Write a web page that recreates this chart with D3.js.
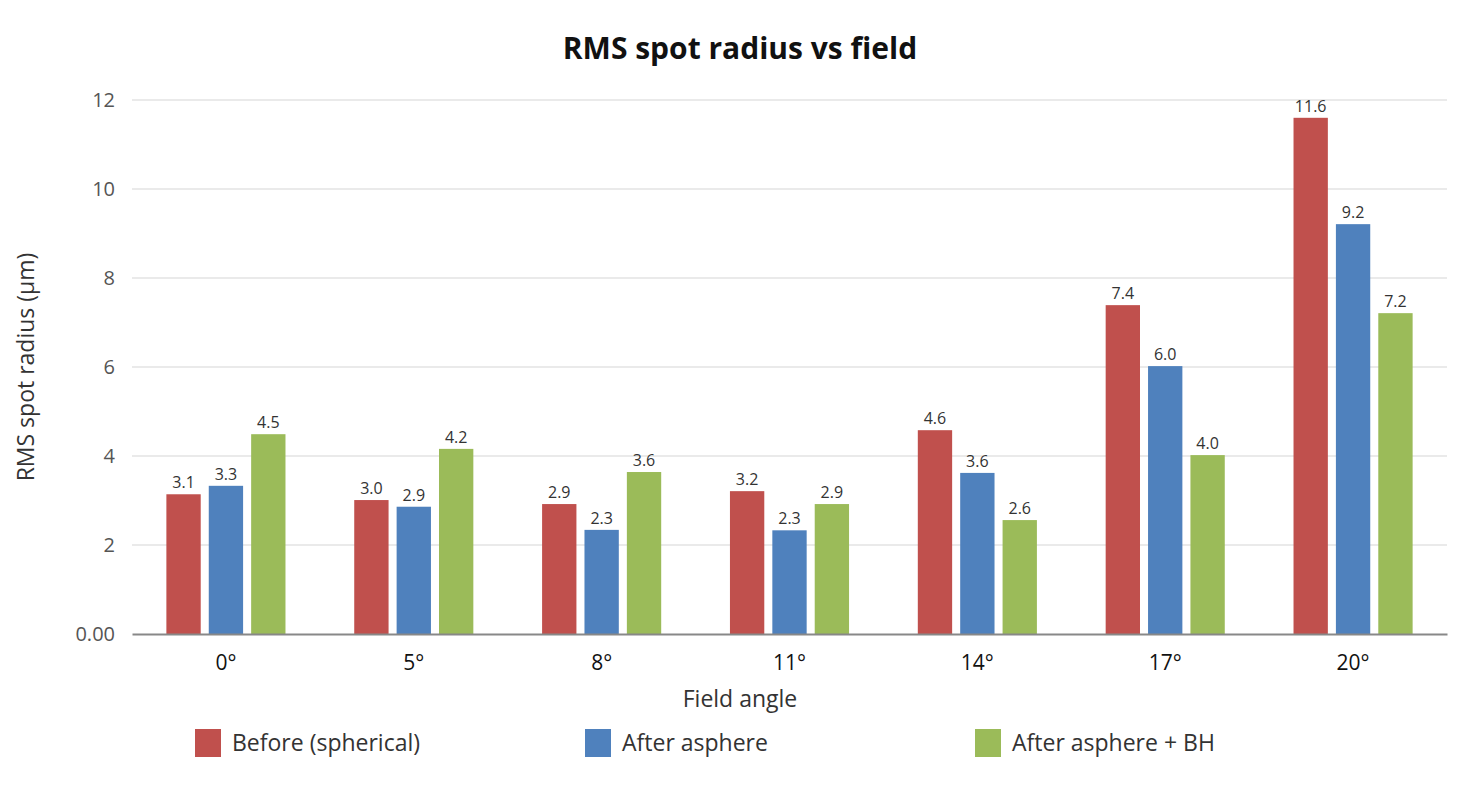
<!DOCTYPE html>
<html>
<head>
<meta charset="utf-8">
<script src="https://cdn.jsdelivr.net/npm/d3@7"></script>
<style>
  body { margin: 0; background: #fff; }
  svg, svg text { font-family: "Open Sans", "Noto Sans", sans-serif; }
</style>
</head>
<body>
<div id="chart"></div>
<script>
var categories = ['0°', '5°', '8°', '11°', '14°', '17°', '20°'];
var seriesNames = ['Before (spherical)', 'After asphere', 'After asphere + BH'];
var seriesColors = ['#c0504d', '#4f81bd', '#9bbb59'];
var before = [3.14, 3.01, 2.92, 3.21, 4.58, 7.39, 11.6];
var afterAsphere = [3.33, 2.86, 2.34, 2.33, 3.62, 6.02, 9.21];
var afterBH = [4.49, 4.16, 3.64, 2.92, 2.56, 4.02, 7.21];
var yTicks = [0, 2, 4, 6, 8, 10, 12];

var series = [before, afterAsphere, afterBH];

var width = 1480, height = 800;
var margin = { top: 100, right: 33, bottom: 166, left: 132 };
var plotW = width - margin.left - margin.right;
var plotH = height - margin.top - margin.bottom;

var svg = d3.select('#chart').append('svg')
    .attr('width', width)
    .attr('height', height);

var x0 = d3.scaleBand().domain(categories).range([0, plotW]).paddingInner(0.366).paddingOuter(0.183);
var x1 = d3.scaleBand().domain(d3.range(series.length)).range([0, x0.bandwidth()]).paddingInner(0.19).paddingOuter(0);
var y = d3.scaleLinear().domain([0, 12]).range([plotH, 0]);

var g = svg.append('g').attr('transform', 'translate(' + margin.left + ',' + margin.top + ')');

// grid
g.selectAll('line.grid').data(yTicks.filter(function (d) { return d > 0; }))
    .enter().append('line')
    .attr('class', 'grid')
    .attr('x1', 0).attr('x2', plotW)
    .attr('y1', function (d) { return y(d); })
    .attr('y2', function (d) { return y(d); })
    .style('stroke', '#e3e3e3')
    .style('stroke-width', '1.5px');

// y axis labels
var yAxis = d3.axisLeft(y).tickValues(yTicks).tickSize(0).tickPadding(17)
    .tickFormat(function (d) { return d === 0 ? '0.00' : d; });
var yg = g.append('g').call(yAxis).attr('font-family', null);
yg.select('.domain').remove();
yg.selectAll('text').style('font-size', '20px').style('fill', '#555');

// bars
var groups = g.selectAll('g.cat').data(categories).enter().append('g')
    .attr('class', 'cat')
    .attr('transform', function (d) { return 'translate(' + x0(d) + ',0)'; });

groups.each(function (cat, ci) {
    var grp = d3.select(this);
    series.forEach(function (vals, si) {
        var v = vals[ci];
        grp.append('rect')
            .attr('x', x1(si))
            .attr('y', y(v))
            .attr('width', x1.bandwidth())
            .attr('height', plotH - y(v))
            .style('fill', seriesColors[si]);
        grp.append('text')
            .attr('x', x1(si) + x1.bandwidth() / 2)
            .attr('y', y(v) - 6)
            .attr('text-anchor', 'middle')
            .style('font-size', '16px')
            .style('fill', '#333')
            .text(d3.format('.1f')(v));
    });
});

// x axis
var xAxis = d3.axisBottom(x0).tickSize(0).tickPadding(21);
var xg = g.append('g').attr('transform', 'translate(0,' + plotH + ')').call(xAxis).attr('font-family', null);
xg.select('.domain').style('stroke', '#888').style('stroke-width', '2px');
xg.selectAll('text').style('font-size', '21px').style('fill', '#111');

// title
svg.append('text')
    .attr('x', 740).attr('y', 59)
    .attr('text-anchor', 'middle')
    .style('font-size', '30px').style('font-weight', 'bold').style('fill', '#111')
    .text('RMS spot radius vs field');

// axis titles
svg.append('text')
    .attr('x', 740).attr('y', 707)
    .attr('text-anchor', 'middle')
    .style('font-size', '23px').style('fill', '#333')
    .text('Field angle');

svg.append('text')
    .attr('transform', 'translate(34,' + (margin.top + plotH / 2) + ') rotate(-90)')
    .attr('text-anchor', 'middle')
    .style('font-size', '23px').style('fill', '#333')
    .text('RMS spot radius (µm)');

// legend
var legend = svg.append('g').attr('transform', 'translate(195,729)');
seriesNames.forEach(function (name, i) {
    var item = legend.append('g').attr('transform', 'translate(' + (i * 390) + ',0)');
    item.append('rect')
        .attr('width', 26).attr('height', 28)
        .style('fill', seriesColors[i]);
    item.append('text')
        .attr('x', 37).attr('y', 22)
        .style('font-size', '23px').style('fill', '#333')
        .text(name);
});
</script>
</body>
</html>
